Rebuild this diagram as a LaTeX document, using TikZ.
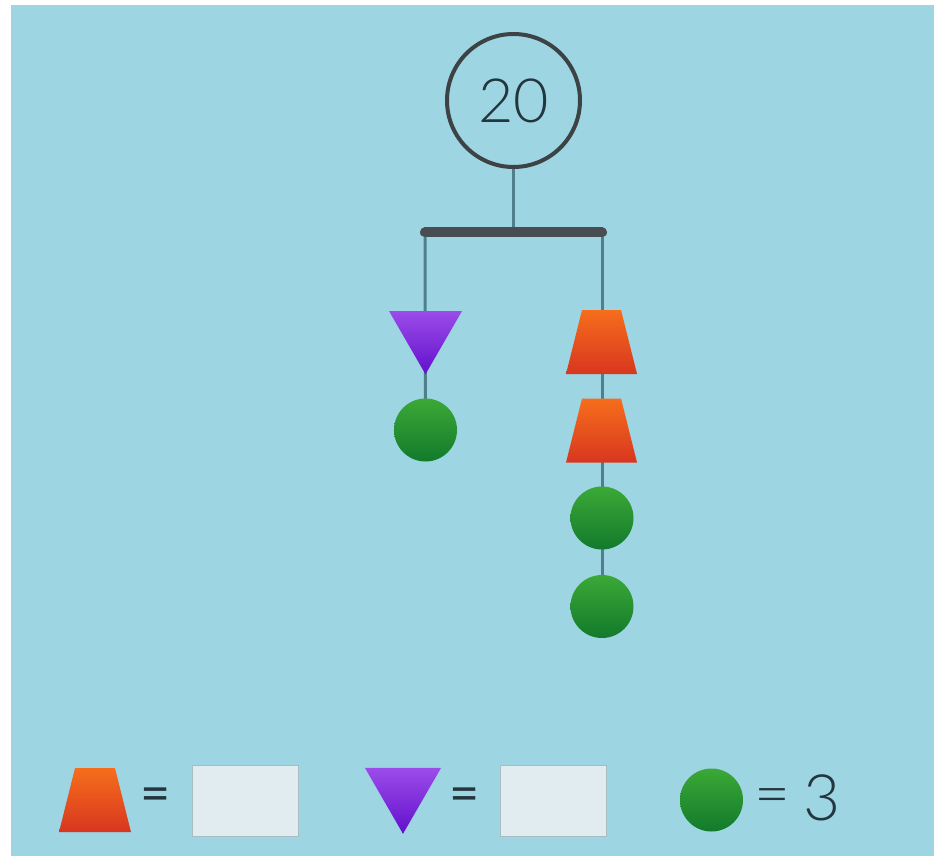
\documentclass[tikz,border=0pt]{standalone}
\usepackage{fontspec}
\setmainfont{Lato}
\newfontfamily\lightfont{Lato Light}
\usetikzlibrary{shapes.geometric}
\pgfdeclarelayer{bg}
\pgfdeclarelayer{wires}
\pgfsetlayers{bg,wires,main}

\definecolor{sky}{HTML}{9DD5E3}
\definecolor{wire}{HTML}{517E8B}
\definecolor{barcol}{HTML}{474D50}
\definecolor{ringcol}{HTML}{3D4345}
\definecolor{ink}{HTML}{23363E}
\definecolor{greentop}{HTML}{3BA936}
\definecolor{greenbot}{HTML}{127A2C}
\definecolor{orangetop}{HTML}{F66E1C}
\definecolor{orangebot}{HTML}{D8361F}
\definecolor{purpletop}{HTML}{9B4CE9}
\definecolor{purplebot}{HTML}{6310CC}
\definecolor{boxfill}{HTML}{E0ECF0}
\definecolor{boxline}{HTML}{A8BCC2}

\tikzset{
  ball/.style={circle, minimum size=63pt, inner sep=0pt, outer sep=0pt,
    top color=greentop, bottom color=greenbot},
  % a trapezoid weight, shaded inside an invisible rectangle
  weight/.style={rectangle, minimum width=71pt, minimum height=64pt,
    inner sep=0pt, outer sep=0pt,
    path picture={
      \shade[top color=orangetop, bottom color=orangebot]
        (path picture bounding box.south west) --
        (path picture bounding box.south east) --
        ([xshift=-16pt]path picture bounding box.north east) --
        ([xshift=16pt]path picture bounding box.north west) -- cycle;
    }},
  cone/.style={regular polygon, regular polygon sides=3, shape border rotate=180,
    minimum size=84.3pt, inner sep=0pt, outer sep=0pt,
    top color=purpletop, bottom color=purplebot},
  answerbox/.style={rectangle, minimum width=106pt, minimum height=71pt,
    fill=boxfill, draw=boxline, line width=1pt, inner sep=0pt},
  wireline/.style={draw=wire, line width=3pt},
  eqsign/.style={text=ink, font=\fontsize{52}{56}\selectfont, inner sep=0pt}
}

\begin{document}
\begin{tikzpicture}[x=1pt, y=-1pt]
  \useasboundingbox (0,0) rectangle (938,856);

  % total weight
  \node[circle, draw=ringcol, line width=4pt, fill=sky, minimum size=133pt, inner sep=0pt]
    (root) at (513.5,100.5) {\lightfont\fontsize{61}{64}\selectfont\color{ink}20};

  % beam and hanging points
  \coordinate (barL) at (425,232.5);
  \coordinate (barM) at (513.5,232.5);
  \coordinate (barR) at (602,232.5);

  % left string
  \node[cone] (tri) at (425.5,332.1) {};
  \node[ball] (lball) at (425.5,430) {};

  % right string
  \node[weight] (w1) at (601.5,342) {};
  \node[weight] (w2) at (601.5,430.5) {};
  \node[ball] (rball1) at (602,518) {};
  \node[ball] (rball2) at (602,606.5) {};

  % legend
  \node[weight, minimum width=72pt] (lw) at (95,800) {};
  \node[eqsign] (eqa) at (156,800) {=};
  \node[answerbox] (boxa) at (245,800.5) {};
  \node[cone, minimum size=87.8pt] (lt) at (403,789.9) {};
  \node[eqsign] (eqb) at (465,800) {=};
  \node[answerbox] (boxb) at (553.5,800.5) {};
  \node[ball] (lb) at (711.5,800) {};
  \node[text=ink, inner sep=0pt, font=\lightfont\fontsize{62}{66}\selectfont] (eqc) at (772.5,802) {=};
  \node[text=ink, inner sep=0pt, font=\lightfont\fontsize{64}{68}\selectfont] (three) at (822,797.5) {3};

  \begin{pgfonlayer}{wires}
    \draw[wireline] (root.south) -- (barM);
    \draw[wireline] (barL) -- (lball.center);
    \draw[wireline] (barR) -- (rball2.center);
    \draw[draw=barcol, line width=10pt, line cap=round] (barL) -- (barR);
  \end{pgfonlayer}

  \begin{pgfonlayer}{bg}
    \fill[white] (0,0) rectangle (938,856);
    \fill[sky] (11,5) rectangle (934,856);
  \end{pgfonlayer}
\end{tikzpicture}
\end{document}
